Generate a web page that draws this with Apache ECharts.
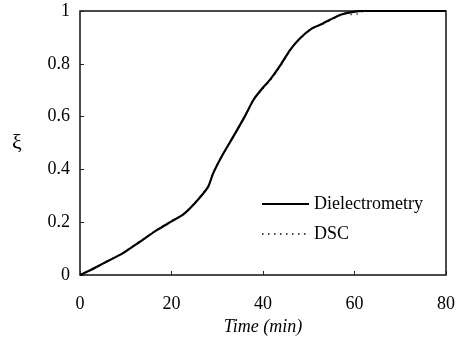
<!DOCTYPE html>
<html><head><meta charset="utf-8">
<script src="https://cdn.jsdelivr.net/npm/echarts@6/dist/echarts.min.js"></script>
<style>html,body{margin:0;padding:0;background:#fff}#c{width:462px;height:338px}</style>
</head><body><div id="c"></div>
<script>
const seriesNames = ['Dielectrometry', 'DSC'];
const xTicks = [0, 20, 40, 60, 80];
const yTicks = [0, 0.2, 0.4, 0.6, 0.8, 1];
const timeDiel = [0, 2, 5, 9.5, 13, 16.8, 20, 22.6, 25, 28, 29.1, 31, 33.5, 36, 37.9, 40, 41.5, 44, 45.9, 48, 50.7, 53, 56.8, 59.8, 62, 70, 80];
const xiDiel   = [0, 0.016, 0.043, 0.084, 0.125, 0.17, 0.203, 0.23, 0.27, 0.334, 0.385, 0.45, 0.524, 0.6, 0.663, 0.71, 0.739, 0.8, 0.852, 0.895, 0.934, 0.952, 0.985, 0.997, 1, 1, 1];
const timeDSC = [0, 2, 5, 9.5, 13, 16.8, 20, 22.6, 25, 28, 29.1, 31, 33.5, 36, 37.9, 40, 41.5, 44, 45.9, 48, 50.7, 53, 56.8, 58, 59, 60, 61, 62, 70, 80];
const xiDSC   = [0, 0.017, 0.044, 0.086, 0.127, 0.172, 0.205, 0.231, 0.272, 0.336, 0.387, 0.452, 0.526, 0.602, 0.665, 0.705, 0.734, 0.796, 0.85, 0.894, 0.933, 0.95, 0.982, 0.99, 0.985, 0.99, 0.988, 1, 1, 1];

const chart = echarts.init(document.getElementById('c'));
const font = 'Liberation Serif';
chart.setOption({
  animation: false,
  grid: {left: 80, right: 16, top: 11, bottom: 63, show: true, borderColor: '#111', borderWidth: 1.5,
         containLabel: false, outerBoundsMode: 'none'},
  legend: {
    show: true, orient: 'vertical', left: 256, top: 190, itemWidth: 47, itemHeight: 10, itemGap: 12,
    textStyle: {fontFamily: font, fontSize: 18, color: '#000', padding: [0, 0, 0, 0]},
    itemStyle: {opacity: 0},
    data: seriesNames
  },
  xAxis: {
    type: 'value', min: 0, max: 80, interval: 20,
    name: 'Time (min)', nameLocation: 'middle', nameGap: 43,
    nameTextStyle: {fontFamily: font, fontSize: 18, fontStyle: 'italic', color: '#000'},
    axisLine: {show: false}, splitLine: {show: false},
    axisTick: {inside: true, length: 4, lineStyle: {color: '#222'}},
    axisLabel: {fontFamily: font, fontSize: 18, color: '#000', margin: 20,
      formatter: v => xTicks.includes(v) ? String(v) : ''}
  },
  yAxis: {
    type: 'value', min: 0, max: 1, interval: 0.2,
    name: 'ξ', nameLocation: 'middle', nameGap: 63, nameRotate: 0,
    nameTextStyle: {fontFamily: font, fontSize: 22, color: '#000', align: 'center', verticalAlign: 'middle'},
    axisLine: {show: false}, splitLine: {show: false},
    axisTick: {inside: true, length: 4, lineStyle: {color: '#222'}},
    axisLabel: {fontFamily: font, fontSize: 18, color: '#000', margin: 10,
      formatter: v => { const t = yTicks.find(y => Math.abs(y - v) < 1e-9); return t === undefined ? '' : String(t); }}
  },
  series: [
    {name: seriesNames[0], type: 'line', showSymbol: false, symbol: 'none', smooth: 0.2,
     data: timeDiel.map((t, i) => [t, xiDiel[i]]),
     lineStyle: {color: '#000', width: 2.2}, itemStyle: {color: '#000'}, z: 3},
    {name: seriesNames[1], type: 'line', showSymbol: false, symbol: 'none', smooth: 0.2,
     data: timeDSC.map((t, i) => [t, xiDSC[i]]),
     lineStyle: {color: '#444', width: 1.3, type: [1.5, 4.5]}, itemStyle: {color: '#444'}, z: 2}
  ]
});
</script></body></html>
